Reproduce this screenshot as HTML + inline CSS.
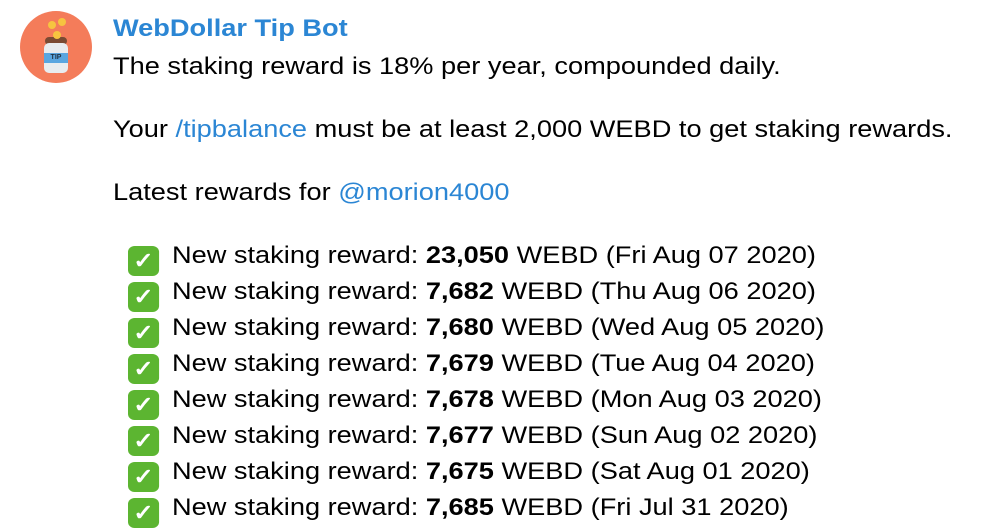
<!DOCTYPE html>
<html><head><meta charset="utf-8">
<style>
html,body{margin:0;padding:0;background:#fff;}
body{width:990px;height:524px;position:relative;overflow:hidden;font-family:"Liberation Sans",sans-serif;color:#000;}
.l{position:absolute;left:113px;font-size:24.5px;line-height:30px;white-space:nowrap;transform:scaleX(1.11);transform-origin:0 50%;margin-top:2px;}
.a{color:#2b86d4;}
.li{left:128px;}
.ck{display:inline-block;width:28px;height:30px;border-radius:6px;background:#5cb531;color:#fff;font-size:22px;line-height:30px;text-align:center;vertical-align:-5px;margin-right:11.6px;font-weight:bold;}
b{font-weight:bold;}
</style></head>
<body>
<div style="position:absolute;left:20px;top:11px;width:72px;height:72px;border-radius:50%;background:#f47c5a;overflow:hidden;">
  <div style="position:absolute;left:25px;top:26px;width:22px;height:8px;border-radius:4px;background:#7a4a33;"></div>
  <div style="position:absolute;left:24px;top:32px;width:24px;height:30px;border-radius:5px;background:#e8ecef;"></div>
  <div style="position:absolute;left:24px;top:42px;width:24px;height:10px;background:#5aa6e0;color:#234;font-size:7px;line-height:10px;text-align:center;font-weight:bold;">TIP</div>
  <div style="position:absolute;left:28px;top:10px;width:8px;height:8px;border-radius:50%;background:#f6c440;"></div>
  <div style="position:absolute;left:38px;top:7px;width:8px;height:8px;border-radius:50%;background:#f6c440;"></div>
  <div style="position:absolute;left:33px;top:20px;width:8px;height:8px;border-radius:50%;background:#f6c440;"></div>
</div>
<div class="l a" style="top:12px;font-weight:bold;">WebDollar Tip Bot</div>
<div class="l" style="top:50px;">The staking reward is 18% per year, compounded daily.</div>
<div class="l" style="top:113px;">Your <span class="a">/tipbalance</span> must be at least 2,000 WEBD to get staking rewards.</div>
<div class="l" style="top:176px;">Latest rewards for <span class="a">@morion4000</span></div>
<div class="l li" style="top:239px;"><span class="ck">✓</span>New staking reward: <b>23,050</b> WEBD (Fri Aug 07 2020)</div>
<div class="l li" style="top:275px;"><span class="ck">✓</span>New staking reward: <b>7,682</b> WEBD (Thu Aug 06 2020)</div>
<div class="l li" style="top:311px;"><span class="ck">✓</span>New staking reward: <b>7,680</b> WEBD (Wed Aug 05 2020)</div>
<div class="l li" style="top:347px;"><span class="ck">✓</span>New staking reward: <b>7,679</b> WEBD (Tue Aug 04 2020)</div>
<div class="l li" style="top:383px;"><span class="ck">✓</span>New staking reward: <b>7,678</b> WEBD (Mon Aug 03 2020)</div>
<div class="l li" style="top:419px;"><span class="ck">✓</span>New staking reward: <b>7,677</b> WEBD (Sun Aug 02 2020)</div>
<div class="l li" style="top:455px;"><span class="ck">✓</span>New staking reward: <b>7,675</b> WEBD (Sat Aug 01 2020)</div>
<div class="l li" style="top:491px;"><span class="ck">✓</span>New staking reward: <b>7,685</b> WEBD (Fri Jul 31 2020)</div>
</body></html>
